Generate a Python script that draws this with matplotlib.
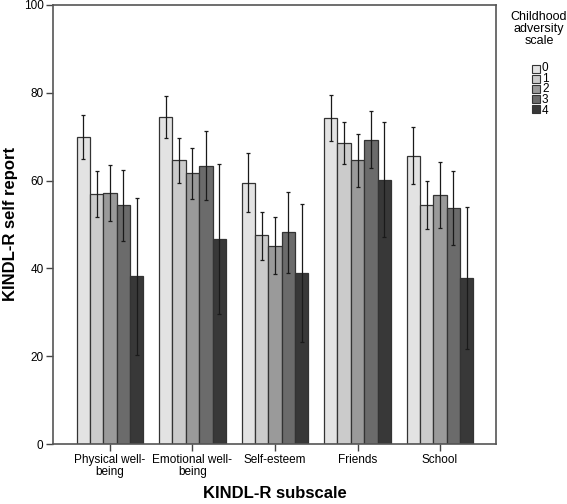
import numpy as np
import matplotlib.pyplot as plt
from matplotlib.patches import Rectangle

plt.rcParams['font.family'] = ['Liberation Sans', 'DejaVu Sans']

subscales = ['Physical well-\nbeing', 'Emotional well-\nbeing', 'Self-esteem', 'Friends', 'School']
levels = ['0', '1', '2', '3', '4']
colors = ['#e3e3e3', '#cbcbcb', '#9a9a9a', '#6b6b6b', '#383838']

# mean per subscale, one list per adversity level
means = [
    [69.9, 74.5, 59.4, 74.2, 65.6],
    [56.9, 64.6, 47.5, 68.6, 54.4],
    [57.2, 61.6, 45.2, 64.6, 56.6],
    [54.4, 63.4, 48.3, 69.3, 53.7],
    [38.2, 46.7, 39.0, 60.2, 37.8],
]
ci_low = [
    [64.9, 69.7, 52.8, 69.0, 59.1],
    [51.7, 59.4, 41.9, 63.8, 48.9],
    [50.8, 55.7, 38.7, 58.6, 49.2],
    [46.2, 55.6, 39.0, 62.8, 45.3],
    [20.3, 29.6, 23.3, 47.2, 21.7],
]
ci_high = [
    [74.9, 79.3, 66.2, 79.5, 72.2],
    [62.1, 69.7, 52.9, 73.3, 59.9],
    [63.6, 67.5, 51.6, 70.6, 64.1],
    [62.5, 71.3, 57.5, 75.8, 62.2],
    [56.1, 63.8, 54.7, 73.2, 53.9],
]

W, H = 567, 504


def main():
    fig = plt.figure(figsize=(W / 100, H / 100), dpi=100)
    ax = fig.add_axes([0.094, 0.1185, 0.781, 0.8722])

    x = np.arange(len(subscales))
    width = 0.162
    for i, level in enumerate(levels):
        pos = x + (i - 2) * width
        m = np.array(means[i])
        err = [m - np.array(ci_low[i]), np.array(ci_high[i]) - m]
        ax.bar(pos, m, width, color=colors[i], edgecolor='#333333', linewidth=0.9, zorder=2)
        ax.errorbar(pos, m, yerr=err, fmt='none', ecolor='#1a1a1a', elinewidth=0.9,
                    capsize=1.2, capthick=0.9, zorder=3)

    ax.set_xlim(-0.687, 4.68)
    ax.set_ylim(0, 100)
    ax.set_yticks([0, 20, 40, 60, 80, 100])
    ax.set_xticks(x)
    ax.set_xticklabels(subscales, fontsize=8.5, linespacing=0.95)
    ax.tick_params(axis='both', direction='out', length=5, width=1, color='#444444', labelsize=8.5,
                   pad=2)
    for side in ax.spines.values():
        side.set_color('#555555')
        side.set_linewidth(1.2)

    fig.text(11 / W, 1 - 224 / H, 'KINDL-R self report', rotation=90, fontsize=12,
             fontweight='bold', ha='center', va='center')
    fig.text(275 / W, 1 - 493 / H, 'KINDL-R subscale', fontsize=12,
             fontweight='bold', ha='center', va='center')

    # legend drawn by hand to match the compact SPSS layout
    fig.text(539 / W, 1 - 11 / H, 'Childhood\nadversity\nscale', fontsize=9, ha='center',
             va='top', multialignment='center', linespacing=1.0)
    size = 8
    pitch = 10
    for i, c in enumerate(colors):
        yc = 69 + i * pitch
        fig.patches.append(Rectangle((531.5 / W, 1 - (yc + size / 2) / H), size / W, size / H,
                                     transform=fig.transFigure, facecolor=c,
                                     edgecolor='#333333', linewidth=0.8))
    fig.text(542 / W, 1 - (69 + 2 * pitch + 0.5) / H, '\n'.join(levels), fontsize=8.5,
             ha='left', va='center', multialignment='left', linespacing=0.85)

    fig.savefig('out.png', dpi=100)


if __name__ == '__main__':
    main()
